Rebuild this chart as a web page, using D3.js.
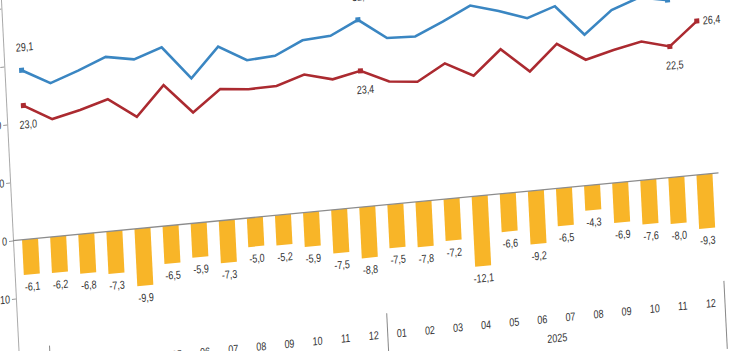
<!DOCTYPE html>
<html>
<head>
<meta charset="utf-8">
<script src="https://cdnjs.cloudflare.com/ajax/libs/d3/7.8.5/d3.min.js"></script>
<style>
    body { margin: 0; background: #fff; overflow: hidden; }
    svg { display: block; }
    text {
        font-family: "Liberation Sans", Arial, sans-serif;
        font-size: 11.5px;
        fill: #333;
        transform-box: fill-box;
        transform-origin: center;
        transform: scaleX(0.78);
    }
    text.anchor-end { transform-origin: right; }
    text.anchor-start { transform-origin: left; }
</style>
</head>
<body>
<div id="chart"></div>
<script>
(function () {
    "use strict";

    // monthly periods, Dec 2023 .. Dec 2025
    const periods = [
        "2023-12",
        "2024-01", "2024-02", "2024-03", "2024-04", "2024-05", "2024-06",
        "2024-07", "2024-08", "2024-09", "2024-10", "2024-11", "2024-12",
        "2025-01", "2025-02", "2025-03", "2025-04", "2025-05", "2025-06",
        "2025-07", "2025-08", "2025-09", "2025-10", "2025-11", "2025-12"
    ];

    // red line
    const exportsValues = [
        23.0, 20.2, 21.3, 22.7, 19.2, 24.2, 19.0, 22.6, 22.1, 22.2, 23.7, 22.4, 23.4,
        21.1, 20.6, 23.3, 20.7, 24.8, 20.5, 24.8, 21.6, 22.8, 23.8, 22.5, 26.4
    ];

    // blue line
    const importsValues = [
        29.1, 26.4, 28.1, 30.0, 29.1, 30.7, 24.9, 29.9, 27.1, 27.4, 29.6, 29.9, 32.2,
        28.6, 28.4, 30.5, 32.8, 31.4, 29.7, 31.3, 25.9, 29.7, 31.4, 30.5, 35.7
    ];

    // bars
    const balanceValues = [
        -6.1, -6.2, -6.8, -7.3, -9.9, -6.5, -5.9, -7.3, -5.0, -5.2, -5.9, -7.5, -8.8,
        -7.5, -7.8, -7.2, -12.1, -6.6, -9.2, -6.5, -4.3, -6.9, -7.6, -8.0, -9.3
    ];

    const yTicks = [-20, -10, 0, 10, 20, 30, 40];
    const labelledPoints = [0, 12, 23, 24];

    const width = 730;
    const height = 351;

    const fmt = v => v.toFixed(1).replace(".", ",");

    const svg = d3.select("#chart").append("svg")
        .attr("width", width)
        .attr("height", height);

    // the picture is a slanted photo of the chart, so the whole plot is skewed
    const plot = svg.append("g")
        .attr("transform", "matrix(1,-0.096,0.05,1,1.4,8.6)");

    const xScale = d3.scaleBand()
        .domain(periods)
        .range([3, 705.5])
        .paddingInner(0.43)
        .paddingOuter(0.215);

    const yScale = d3.scaleLinear()
        .domain([-20, 40])
        .range([348, 0]);

    const cx = p => xScale(p) + xScale.bandwidth() / 2;
    const last = periods.length - 1;

    // y axis
    const yAxis = d3.axisLeft(yScale)
        .tickValues(yTicks)
        .tickSize(4)
        .tickSizeOuter(0)
        .tickPadding(2)
        .tickFormat(d => String(d));

    const axisG = plot.append("g")
        .attr("class", "y-axis")
        .call(yAxis);

    axisG.select(".domain")
        .attr("stroke", "#aaa")
        .attr("d", `M0.5,-40V${yScale(-20) + 60}`);
    axisG.selectAll(".tick line").attr("stroke", "#999");
    axisG.selectAll(".tick text")
        .attr("class", "anchor-end")
        .attr("fill", "#333");

    // bars
    plot.append("g")
        .selectAll("rect")
        .data(balanceValues)
        .join("rect")
        .attr("x", (d, i) => xScale(periods[i]))
        .attr("y", yScale(0))
        .attr("width", xScale.bandwidth())
        .attr("height", d => yScale(d) - yScale(0))
        .attr("fill", "#f8b528");

    plot.append("g")
        .selectAll("text")
        .data(balanceValues)
        .join("text")
        .attr("x", (d, i) => cx(periods[i]))
        .attr("y", d => yScale(d) + 16)
        .attr("text-anchor", "middle")
        .text(fmt);

    // zero line
    plot.append("line")
        .attr("x1", 0)
        .attr("x2", 705.5)
        .attr("y1", yScale(0))
        .attr("y2", yScale(0))
        .attr("stroke", "#8c8c8c")
        .attr("stroke-width", 1.3);

    // lines
    const series = [
        { name: "imports", values: importsValues, color: "#3a86c2", labelDy: -19 },
        { name: "exports", values: exportsValues, color: "#ab2a30", labelDy: 23 }
    ];

    for (const s of series) {
        const generator = d3.line()
            .x((d, i) => cx(periods[i]))
            .y(d => yScale(d));

        plot.append("path")
            .attr("class", s.name)
            .attr("d", generator(s.values))
            .attr("fill", "none")
            .attr("stroke", s.color)
            .attr("stroke-width", 2.6);

        plot.append("g")
            .selectAll("rect")
            .data(labelledPoints)
            .join("rect")
            .attr("x", i => cx(periods[i]) - 2.5)
            .attr("y", i => yScale(s.values[i]) - 2.5)
            .attr("width", 5)
            .attr("height", 5)
            .attr("fill", s.color);

        plot.append("g")
            .selectAll("text")
            .data(labelledPoints)
            .join("text")
            .attr("class", i => i === last ? "anchor-start" : null)
            .attr("x", i => i === last ? cx(periods[i]) + 6 : cx(periods[i]) + 4)
            .attr("y", i => i === last ? yScale(s.values[i]) + 4 : yScale(s.values[i]) + s.labelDy)
            .attr("text-anchor", i => i === last ? "start" : "middle")
            .text(i => fmt(s.values[i]));
    }

    // month labels
    const monthTop = yScale(-20);
    plot.append("g")
        .selectAll("text")
        .data(periods)
        .join("text")
        .attr("x", p => cx(p))
        .attr("y", monthTop + 17)
        .attr("text-anchor", "middle")
        .attr("fill", "#444")
        .text(p => p.slice(5));

    // year groups with separators halfway between the groups' bars
    const years = Array.from(d3.group(periods, p => p.slice(0, 4)), ([year, list]) => ({ year, list }));
    const groupEnd = d => xScale(d.list[d.list.length - 1]) + xScale.bandwidth()
        + (xScale.step() - xScale.bandwidth()) / 2;

    plot.append("g")
        .selectAll("line")
        .data(years)
        .join("line")
        .attr("x1", groupEnd)
        .attr("x2", groupEnd)
        .attr("y1", monthTop - 8)
        .attr("y2", monthTop + 60)
        .attr("stroke", "#888")
        .attr("stroke-width", 1);

    plot.append("g")
        .selectAll("text")
        .data(years)
        .join("text")
        .attr("x", d => (cx(d.list[0]) + cx(d.list[d.list.length - 1])) / 2)
        .attr("y", monthTop + 37)
        .attr("text-anchor", "middle")
        .text(d => d.year);
}());
</script>
</body>
</html>
